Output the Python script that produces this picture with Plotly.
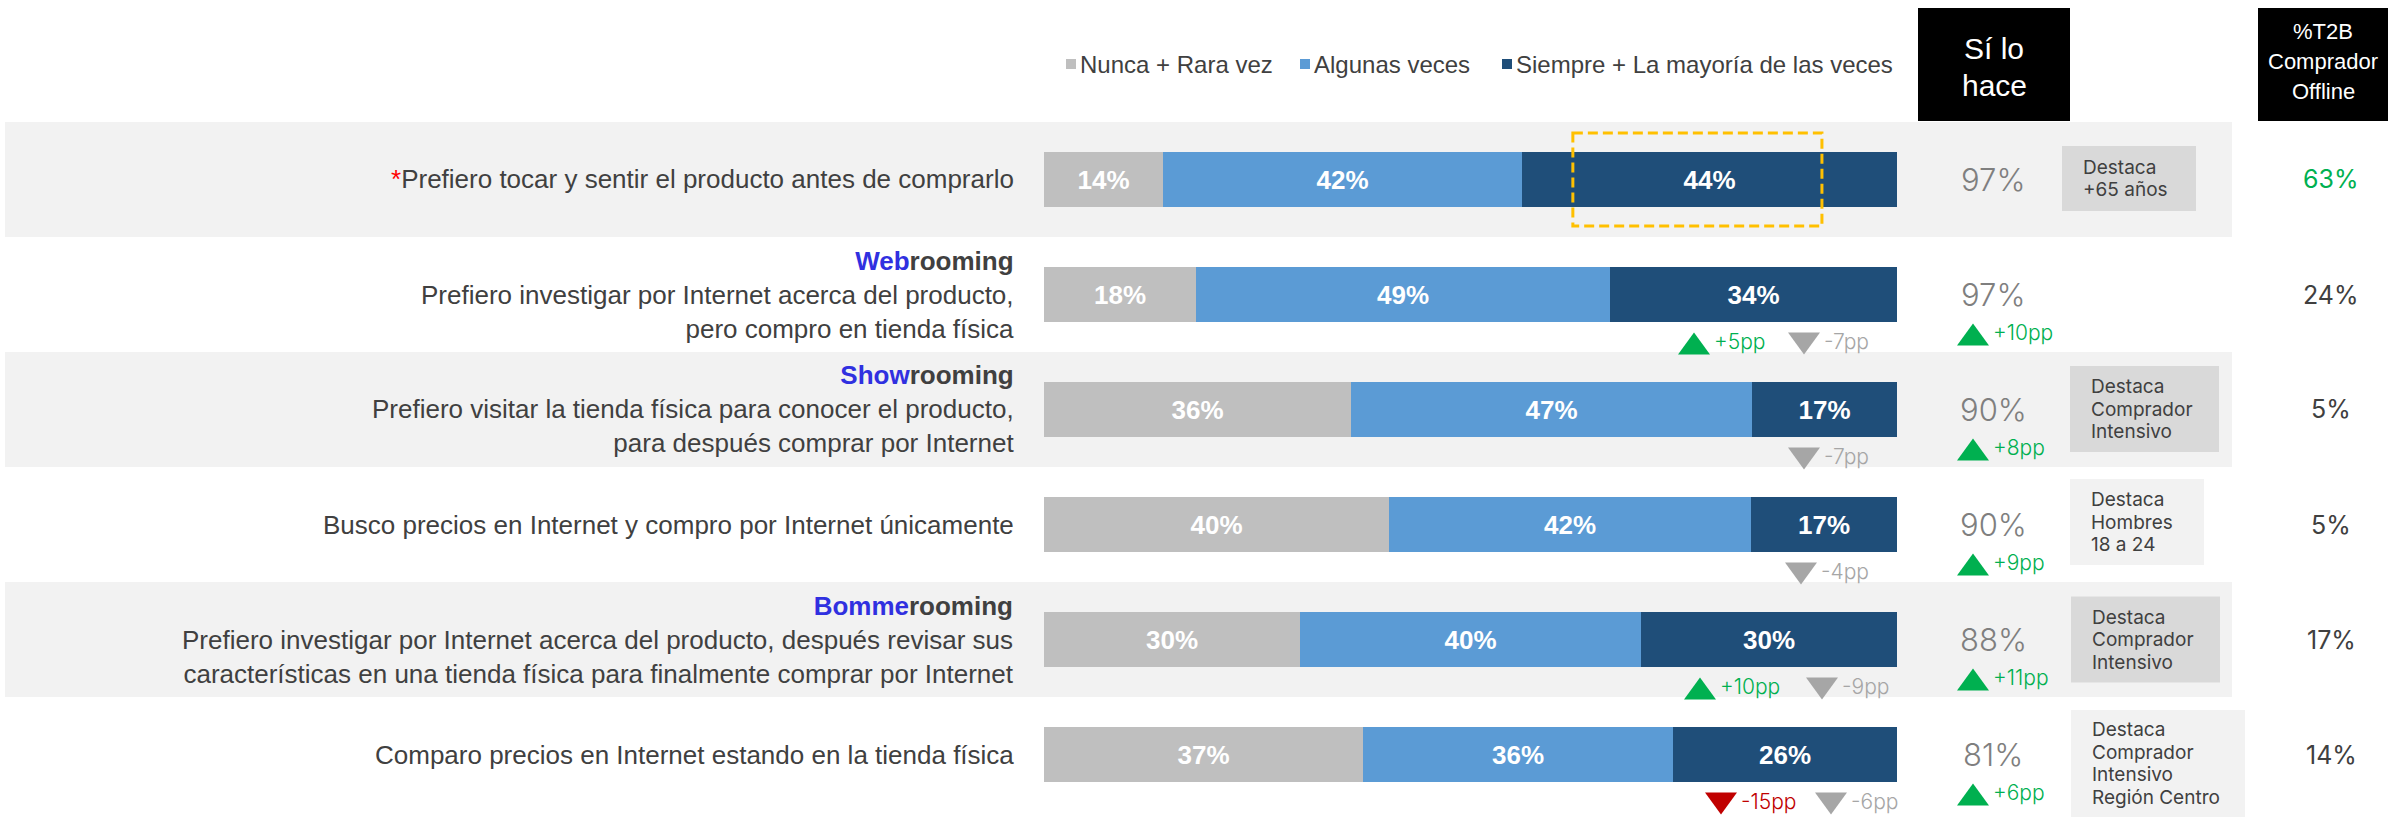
import plotly.graph_objects as go

# data
rows = [
    "<span style='color:#FF0000'>*</span>Prefiero tocar y sentir el producto antes de comprarlo",
    "<b><span style='color:#3030E0'>Web</span>rooming</b><br>Prefiero investigar por Internet acerca del producto,<br>pero compro en tienda física",
    "<b><span style='color:#3030E0'>Show</span>rooming</b><br>Prefiero visitar la tienda física para conocer el producto,<br>para después comprar por Internet",
    "Busco precios en Internet y compro por Internet únicamente",
    "<b><span style='color:#3030E0'>Bomme</span>rooming</b><br>Prefiero investigar por Internet acerca del producto, después revisar sus<br>características en una tienda física para finalmente comprar por Internet",
    "Comparo precios en Internet estando en la tienda física",
]
series_names = ["Nunca + Rara vez", "Algunas veces", "Siempre + La mayoría de las veces"]
nunca = [14, 18, 36, 40, 30, 37]
algunas = [42, 49, 47, 42, 40, 36]
siempre = [44, 34, 17, 17, 30, 26]
# changes shown under the bars: (value in pp, significant?)
bar_deltas = [[], [(5, True), (-7, False)], [(-7, False)], [(-4, False)],
              [(10, True), (-9, False)], [(-15, True), (-6, False)]]
si_lo_hace = [97, 97, 90, 90, 88, 81]
si_lo_hace_delta = [None, 10, 8, 9, 11, 6]
destaca = [
    ["Destaca", "+65 años"],
    [],
    ["Destaca", "Comprador", "Intensivo"],
    ["Destaca", "Hombres", "18 a 24"],
    ["Destaca", "Comprador", "Intensivo"],
    ["Destaca", "Comprador", "Intensivo", "Región Centro"],
]
t2b_offline = [63, 24, 5, 5, 17, 14]
header_si = ["Sí lo", "hace"]
header_t2b = ["%T2B", "Comprador", "Offline"]

# styling
W, H = 2395, 818
ROW_TOP, ROW_H = 122, 115
BAR_X0, BAR_X1 = 1044, 1897
colors = ["#BFBFBF", "#5B9BD5", "#1F4E79"]
GREEN, RED, GREY = "#00B050", "#C00000", "#A6A6A6"
TXT = "#404040"
ARIAL = "Arial, 'Liberation Sans', sans-serif"
POP = "Inter, 'Noto Sans', sans-serif"


def px(x):
    return x / W


def py(y):
    return 1 - y / H


def row_mid(i):
    return ROW_TOP + ROW_H * (i + 0.5)


def triangle(cx, cy, up, color):
    if up:
        pts = [(cx - 16, cy + 11), (cx + 16, cy + 11), (cx, cy - 11)]
    else:
        pts = [(cx - 16, cy - 11), (cx + 16, cy - 11), (cx, cy + 11)]
    path = "M " + " L ".join(f"{px(a):.5f},{py(b):.5f}" for a, b in pts) + " Z"
    return dict(type="path", path=path, xref="paper", yref="paper",
                fillcolor=color, line_width=0)


def delta_style(val, sig):
    if not sig:
        return GREY
    return GREEN if val > 0 else RED


fig = go.Figure()
ypos = list(range(len(rows)))
for name, vals, col in zip(series_names, [nunca, algunas, siempre], colors):
    fig.add_trace(go.Bar(
        x=vals, y=ypos, orientation="h", name=name,
        marker=dict(color=col, line_width=0), width=0.48,
        text=[f"{v}%" for v in vals], texttemplate="<b>%{text}</b>",
        textposition="inside", insidetextanchor="middle", textangle=0,
        textfont=dict(family=ARIAL, size=26, color="white"),
        hoverinfo="skip", showlegend=False,
    ))

shapes = []
ann = []

# row bands
for i in range(len(rows)):
    if i % 2 == 0:
        shapes.append(dict(type="rect", xref="paper", yref="paper", layer="below",
                           x0=px(5), x1=px(2232), y0=py(ROW_TOP + ROW_H * (i + 1)),
                           y1=py(ROW_TOP + ROW_H * i), fillcolor="#F2F2F2", line_width=0))

# legend
leg_sq = [1066, 1300, 1502]
for name, col, x in zip(series_names, colors, leg_sq):
    shapes.append(dict(type="rect", xref="paper", yref="paper", x0=px(x), x1=px(x + 10),
                       y0=py(69), y1=py(59), fillcolor=col, line_width=0))
    ann.append(dict(text=name, x=px(x + 12), y=py(64), xanchor="left", yanchor="middle",
                    font=dict(family=ARIAL, size=24, color=TXT)))

# header boxes
shapes.append(dict(type="rect", xref="paper", yref="paper", x0=px(1918), x1=px(2070),
                   y0=py(121), y1=py(8), fillcolor="black", line_width=0))
shapes.append(dict(type="rect", xref="paper", yref="paper", x0=px(2258), x1=px(2388),
                   y0=py(121), y1=py(8), fillcolor="black", line_width=0))
for k, line in enumerate(header_si):
    ann.append(dict(text=line, x=px(1994), y=py(48 + 37 * k), xanchor="center", yanchor="middle",
                    font=dict(family=ARIAL, size=30, color="white")))
for k, line in enumerate(header_t2b):
    ann.append(dict(text=line, x=px(2323), y=py(32 + 30 * k), xanchor="center", yanchor="middle",
                    font=dict(family=ARIAL, size=22, color="white")))

# highlighted segment
shapes.append(dict(type="rect", xref="x", yref="y", x0=62.0, x1=91.2, y0=-0.405, y1=0.405,
                   line=dict(color="#FFC000", width=3, dash="10px,5px"), fillcolor="rgba(0,0,0,0)"))

# layout positions of the delta markers and the "Destaca" boxes
bar_delta_x = [[], [1694, 1804], [1804], [1801], [1700, 1822], [1721, 1831]]
destaca_box = [(2062, 2196), None, (2070, 2219), (2070, 2204), (2071, 2220), (2071, 2245)]
destaca_mid = [178.5, None, 409, 522, 639.5, 763.5]

for i, label in enumerate(rows):
    cy = row_mid(i)
    ann.append(dict(text=label, x=px(1016), y=py(cy), xanchor="right", yanchor="middle",
                    align="right", font=dict(family=ARIAL, size=26, color=TXT)))

    for (val, sig), cx in zip(bar_deltas[i], bar_delta_x[i]):
        col = delta_style(val, sig)
        shapes.append(triangle(cx, cy + 49, val > 0, col))
        ann.append(dict(text=f"{val:+d}pp", x=px(cx + 18), y=py(cy + 47), xanchor="left",
                        yanchor="middle", font=dict(family=POP, size=21, color=col, weight=300)))

    ann.append(dict(text=f"{si_lo_hace[i]}%", x=px(1993), y=py(cy), xanchor="center",
                    yanchor="middle", font=dict(family=POP, size=31, color="#7F7F7F", weight=300)))
    d = si_lo_hace_delta[i]
    if d is not None:
        shapes.append(triangle(1973, cy + 40, d > 0, GREEN if d > 0 else RED))
        ann.append(dict(text=f"{d:+d}pp", x=px(1991), y=py(cy + 38), xanchor="left",
                        yanchor="middle", font=dict(family=POP, size=21, color=GREEN, weight=300)))

    if destaca[i]:
        x0, x1 = destaca_box[i]
        n = len(destaca[i])
        mid = destaca_mid[i]
        hgt = 21 * n + 23
        fill = "#D9D9D9" if i % 2 == 0 else "#F2F2F2"
        shapes.append(dict(type="rect", xref="paper", yref="paper", x0=px(x0), x1=px(x1),
                           y0=py(mid + hgt / 2), y1=py(mid - hgt / 2), fillcolor=fill, line_width=0))
        for k, line in enumerate(destaca[i]):
            ly = mid + (k - (n - 1) / 2) * 22.5
            ann.append(dict(text=line, x=px(x0 + 19), y=py(ly), xanchor="left", yanchor="middle",
                            font=dict(family=POP, size=19, color=TXT)))

    ann.append(dict(text=f"{t2b_offline[i]}%", x=px(2331), y=py(cy), xanchor="center",
                    yanchor="middle",
                    font=dict(family=POP, size=25, color=GREEN if i == 0 else TXT)))

for a in ann:
    a.setdefault("xref", "paper")
    a.setdefault("yref", "paper")
    a.setdefault("showarrow", False)

fig.update_layout(
    width=W, height=H,
    margin=dict(l=0, r=0, t=0, b=0),
    barmode="stack", barnorm="percent", bargap=0,
    paper_bgcolor="white", plot_bgcolor="rgba(0,0,0,0)",
    xaxis=dict(domain=[px(BAR_X0), px(BAR_X1)], range=[0, 100], visible=False, fixedrange=True),
    yaxis=dict(domain=[py(ROW_TOP + ROW_H * 6), py(ROW_TOP)], range=[5.5, -0.5],
               visible=False, fixedrange=True),
    shapes=shapes, annotations=ann, showlegend=False,
)

fig.write_html("out.html", config={"displayModeBar": False},
               post_script="document.body.style.margin='0';")
